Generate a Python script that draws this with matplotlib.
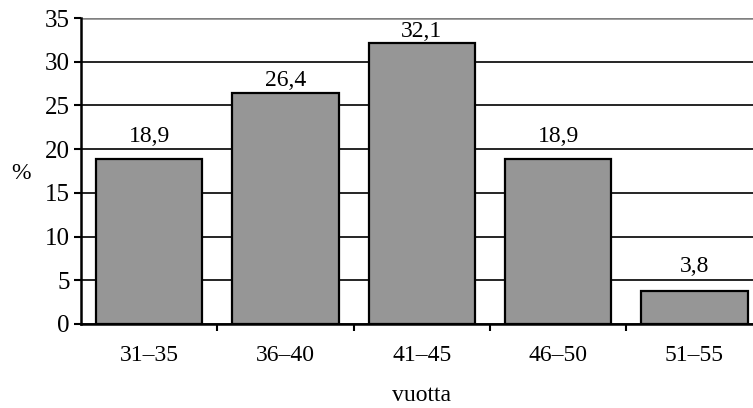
import matplotlib
matplotlib.use("Agg")
import matplotlib.pyplot as plt

# age groups and share of respondents (%)
age_groups = ["31–35", "36–40", "41–45", "46–50", "51–55"]
shares = [18.9, 26.4, 32.1, 18.9, 3.8]
value_labels = ["18,9", "26,4", "32,1", "18,9", "3,8"]
y_ticks = [0, 5, 10, 15, 20, 25, 30, 35]

plt.rcParams["font.family"] = ["Liberation Serif", "DejaVu Serif"]

fig = plt.figure(figsize=(7.53, 4.08), dpi=100)
ax = fig.add_axes([81 / 753, 84 / 408, 681.5 / 753, 306 / 408])

positions = list(range(len(age_groups)))
ax.bar(positions, shares, width=0.78, color="#969696", edgecolor="black",
       linewidth=1.6, zorder=3)

# the original sits the labels of the tall bars closer to the bar top
label_gap_pt = [12, 5, 4.3, 12, 13.5]
for x, v, lab, gap in zip(positions, shares, value_labels, label_gap_pt):
    ax.annotate(lab, (x, v), xytext=(0, gap), textcoords="offset points",
                ha="center", va="baseline", fontsize=17)

ax.set_xlim(-0.5, len(age_groups) - 0.5)
ax.set_ylim(0, 35)
ax.set_yticks(y_ticks)
ax.yaxis.grid(True, color="black", linewidth=1.2, zorder=0)
ax.set_axisbelow(True)

# category ticks between bars, labels at bar centres
ax.set_xticks([p + 0.5 for p in positions[:-1]])
ax.set_xticklabels([])
ax.set_xticks(positions, minor=True)
ax.set_xticklabels(age_groups, minor=True)
ax.tick_params(axis="x", which="major", direction="out", length=5, width=1.5)
ax.tick_params(axis="x", which="minor", length=0, pad=15, labelsize=17)
ax.tick_params(axis="y", direction="out", length=5, width=1.5, pad=3, labelsize=18)

# top gridline looks lighter in the original
ax.get_ygridlines()[-1].set_color("#808080")
ax.get_ygridlines()[-1].set_linewidth(1.8)

for s in ["top", "right"]:
    ax.spines[s].set_visible(False)
ax.spines["left"].set_linewidth(1.8)
ax.spines["bottom"].set_linewidth(1.8)
ax.spines["bottom"].set_zorder(4)

ax.set_xlabel("vuotta", fontsize=17, labelpad=14)
fig.text(21 / 753, 1 - 173 / 408, "%", ha="center", va="center", fontsize=17)

fig.savefig("out.png", dpi=100)
